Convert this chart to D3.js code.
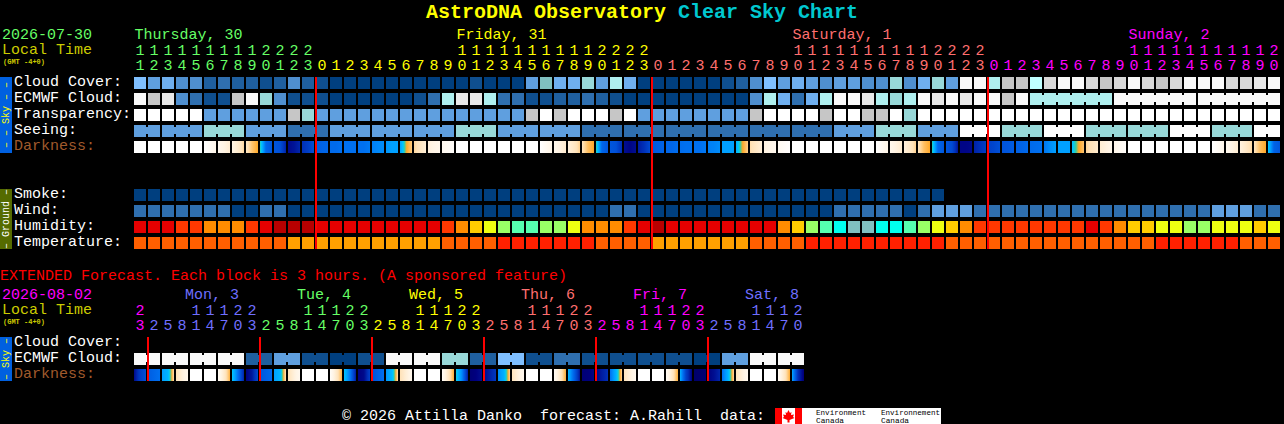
<!DOCTYPE html>
<html lang="en">
<head>
<meta charset="UTF-8">
<title>AstroDNA Observatory Clear Sky Chart</title>
<script src="https://d3js.org/d3.v7.min.js"></script>
<style>
  html, body { margin: 0; background: #000; overflow: hidden; }
  text { font-family: "Liberation Mono", "DejaVu Sans Mono", monospace; font-size: 15px; white-space: pre; }
  rect.block, rect.neck, line.now { shape-rendering: crispEdges; }
</style>
</head>
<body>
<svg id="chart" width="1284" height="424"></svg>
<script>
// hour labels, one per block
const hours = [11,12,13,14,15,16,17,18,19,20,21,22,23,
  0,1,2,3,4,5,6,7,8,9,10,11,12,13,14,15,16,17,18,19,20,21,22,23,
  0,1,2,3,4,5,6,7,8,9,10,11,12,13,14,15,16,17,18,19,20,21,22,23,
  0,1,2,3,4,5,6,7,8,9,10,11,12,13,14,15,16,17,18,19,20];
const extHours = [23,
  2,5,8,11,14,17,20,23, 2,5,8,11,14,17,20,23, 2,5,8,11,14,17,20,23,
  2,5,8,11,14,17,20,23, 2,5,8,11,14,17,20,23, 2,5,8,11,14,17,20];

const days = [["Thursday, 30", 0], ["Friday, 31", 23], ["Saturday, 1", 47], ["Sunday, 2", 71]];
const extDays = [["Mon, 3", 4], ["Tue, 4", 12], ["Wed, 5", 20], ["Thu, 6", 28], ["Fri, 7", 36], ["Sat, 8", 44]];
const midnights = [13, 37, 61];
const extMidnights = [1, 9, 17, 25, 33, 41];

// sky levels, 0 = clear/best, see skyColors
const cloud = [7,5,6,4,4,2,3,2,2,1,2,4,2,1,0,0,0,0,0,0,0,
  0,0,0,1,0,0,0,5,16,6,6,8,5,9,6,0,0,0,0,0,0,1,2,4,7,5,6,5,4,5,5,
  4,4,8,4,6,8,5,15,15,9,11,11,10,12,15,15,12,11,12,15,12,11,12,15,15,15,12,12,13,15];
const ecmwf = [15,11,13,4,3,1,1,11,15,8,4,1,1,1,0,0,0,0,0,0,1,
  3,9,13,13,9,3,3,1,1,2,2,3,2,1,0,0,0,0,0,0,0,0,0,4,9,6,3,6,9,15,15,
  13,9,8,9,15,13,15,13,15,15,11,15,
  9,9,9,9,9,9, 15,15,15,15,15,15, 15,15,15,15,15,15];
const ecmwfSpans = [...d3.range(64).map(() => 1), 6, 6, 6];
const transparency = [14,14,14,14,14,5,5,5,5,5,5,11,8,5,5,5,5,5,5,5,5,
  5,5,5,5,5,5,5,11,14,11,14,14,14,11,14,5,5,5,5,5,5,5,5,11,14,14,14,14,11,14,14,
  11,11,14,8,14,14,14,14,14,14,14,14,14,14,14,14,14,14,14,14,14,14,14,14,14,14,14,14,14,14];
// seeing comes in 3 hour spans
const seeing = [5,5,8,5,3,5,5,5,8,5,5,3,3,3,3,3,3,5,8,5,14,8,14,8,8,14,8,14];
const seeingSpans = [2,3,3,3,3,3,3,3,3,3,3,3,3,3,3,3,3,3,3,3,3,3,3,3,3,3,3,2];
const smoke = d3.range(58).map(() => 0);
const wind = [3,3,3,3,3,3,3,0,0,3,3,0,0,0,0,0,0,0,0,0,0,
  0,0,0,0,0,0,0,0,0,0,0,0,0,3,3,0,0,0,0,0,0,0,0,0,0,0,0,0,0,3,3,
  3,3,3,0,3,5,5,5,3,3,3,3,3,3,3,3,3,3,3,3,3,3,3,3,3,5,5,5,3,3];
// humidity levels, 0 = driest
const humidity = [1,1,1,2,2,3,3,3,2,1,0,0,0,1,1,1,1,1,1,1,1,
  1,2,3,4,5,6,7,7,6,6,5,3,3,3,2,1,0,1,1,1,1,1,1,1,1,3,4,6,7,8,9,
  9,8,8,7,6,5,4,3,2,2,2,2,2,2,2,2,1,2,3,4,4,5,5,6,6,5,5,5,4,5];
// temperature levels
const temperature = [1,1,1,1,1,1,1,1,1,1,1,2,2,2,2,2,2,2,2,2,2,
  2,1,1,1,1,0,0,0,0,0,0,0,1,1,1,1,2,2,2,2,2,2,2,1,1,1,1,0,0,0,0,
  0,0,0,0,0,0,1,1,1,1,1,1,1,1,1,1,1,1,1,1,1,0,0,0,0,0,0,1,1,1];

// darkness, per block [left, middle, right] on the darkScale
const darkness = [[0,0,0],[0,0,0],[0,0,0],[0,0,0],[0,0,0],[0,.4,.8],[.6,1,1.4],[1,1.5,2.2],[1.8,2.5,3],[3.5,6.3,6.8],
  [6.8,7,8.3],[8.8,8.6,8.2],[8,7.6,7],[6.6,6.4,6.3],[6.2,6.2,6],[6,6,6],[6,6,5.8],[5.7,5.5,5.4],[5.2,5,5],[5,3.1,2.4],
  [2.2,1.8,1.3],[1.2,.9,.7],[.6,.4,.2],[0,0,0],[0,0,0],[0,0,0],[0,0,0],[0,0,0],[0,0,0],[0,.5,.9],
  [.7,1.1,1.5],[1.2,1.7,2.3],[1.9,2.6,3],[3.5,6.3,6.8],[6.8,7,8],[8.7,8.9,8.7],[8.4,8,7.2],[6.8,6.6,6.4],[6.3,6.3,6.1],[6.1,6,6],
  [6,6,5.8],[5.7,5.6,5.4],[5,5,5],[4.6,3.1,2.3],[2.1,1.7,1.3],[1.1,.9,.6],[.5,.3,.1],[0,0,0],[0,0,0],[0,0,0],
  [0,0,0],[0,0,0],[0,0,0],[0,.5,.9],[.7,1.1,1.5],[1.2,1.7,2.3],[1.9,2.6,3],[3.5,6.3,6.8],[6.8,7.2,8.6],[8.9,8.9,8.8],
  [8.3,8,7.6],[7.5,7.3,7],[6.9,6.8,6.6],[6.5,6.4,6.2],[6.2,6.1,6],[5.9,5.4,5],[5,5,5],[4.2,3.1,2.5],[2.2,1.9,1.5],[1.4,1.1,.8],
  [.8,.5,.2],[0,0,0],[0,0,0],[0,0,0],[0,0,0],[0,0,0],[0,0,0],[0,.4,.8],[.6,1,1.4],[1.1,1.6,2.2],
  [1.9,2.6,3],[4,6.4,6.8]];

// extended forecast, blocks of 3 hours
const extEcmwf = [15,15,15,15,2,5,1,0,1,15,15,8,2,7,1,3,1,1,1,1,0,5,15,15]
  .flatMap(v => [v, v]);
const extSpans = d3.range(24).map(() => 2);
const extDarkness = [[8.8,7.6,7],[6.6,6.3,6],[5,4.5,2],[2,1.2,.7],[0,0,0],[0,0,0],[.4,1.5,2.8],[4,6,8.3],
  [9,8.5,7.2],[6.8,6.5,6.2],[5,4.5,1.8],[2,1.2,.6],[0,0,0],[0,0,0],[.3,1.5,2.8],[4.1,5.8,8.5],
  [9,8.8,7.5],[7,6.5,6],[5.2,4.4,2],[2,1.3,.7],[0,0,0],[0,0,0],[.3,1.6,2.9],[3.8,5.5,8.5],
  [9.2,9,8.7],[8.8,8.3,7.8],[5.5,4.6,2.2],[1.9,1.2,.6],[0,0,0],[0,0,0],[.4,1.6,2.9],[4.4,6.4,8.6],
  [9.2,9.1,8.9],[8.9,8.4,8],[6,4.6,2.2],[1.9,1.2,.6],[0,0,0],[0,0,0],[.4,1.6,2.9],[4.6,7.5,9],
  [9.4,9.3,9.2],[9,8.7,8.2],[6,4.6,2.1],[1.9,1.2,.6],[0,0,0],[0,0,0],[.4,1.6,2.9],[4.8,8,9.2]];

// palettes
const skyColors = ["#003f7f","#0f4f8f","#1f5f9f","#2f6faf","#4f8fcf","#5f9fdf","#6fafef","#7fbfff",
  "#98d8d8","#afefef","#bfffff","#c6c6c6","#d8d8d8","#e8e8e8","#ffffff","#f9f9f9","#80c0c0"];
const humidityColors = ["#b80000","#e60000","#ff3800","#ff8c00","#ffcc00","#eeff11","#99ff66","#55ffb0","#00ffee","#80c0c0"];
const temperatureColors = ["#ff2000","#ff5f00","#ffa000"];
const dayColors = ["#66ff66","#ffff00","#ff6f6f","#ff00ff"];
const extDayColors = ["#ff00ff","#6f6fff","#66ff66","#ffff00","#ff6f6f","#ff00ff","#6f6fff"];

const sky = d3.scaleOrdinal().domain(d3.range(skyColors.length)).range(skyColors);
const hum = d3.scaleOrdinal().domain(d3.range(humidityColors.length)).range(humidityColors);
const temp = d3.scaleOrdinal().domain(d3.range(temperatureColors.length)).range(temperatureColors);
const darkScale = d3.scaleLinear()
  .domain([0, 1, 2, 3, 3.5, 4, 5, 6, 7, 8, 9])
  .range(["#ffffff","#fff4e4","#ffe2b8","#ffa828","#30d0a0","#00c8ff","#00a0ff","#0070f0","#0050d8","#0030b8","#000080"]);

const x = d3.scaleBand().domain(hours.map((h, i) => i)).range([134, 1280]).paddingInner(2 / 14);
const xExt = d3.scaleBand().domain(extHours.map((h, i) => i)).range([134, 804]).paddingInner(2 / 14);
const ySky = d3.scaleBand().domain(["cloud","ecmwf","transparency","seeing","darkness"]).range([77, 153]).paddingInner(.25);
const yGround = d3.scaleBand().domain(["smoke","wind","humidity","temperature"]).range([189, 249]).paddingInner(.25);
const yExt = d3.scaleBand().domain(["cloud","ecmwf","darkness"]).range([337, 381]).paddingInner(.25);

const svg = d3.select("#chart");
const defs = svg.append("defs");

function label(str, px, py, color, size, weight) {
  const t = svg.append("text").attr("x", px).attr("y", py).attr("fill", color).text(str);
  if (size) t.style("font-size", size + "px");
  if (weight) t.style("font-weight", weight);
  return t;
}

function blocks(values, xs, yPos, h, color) {
  svg.append("g").selectAll("rect").data(values).join("rect")
    .attr("class", "block")
    .attr("x", (d, i) => xs(i)).attr("y", yPos)
    .attr("width", xs.bandwidth()).attr("height", h)
    .attr("fill", d => color(d));
}

// the joined blocks have a thin bridge across the gap
function necks(values, spans, xs, yPos, color) {
  const joins = [];
  let col = 0;
  spans.forEach(n => {
    d3.range(n - 1).forEach(k => joins.push(col + k));
    col += n;
  });
  svg.append("g").selectAll("rect").data(joins).join("rect")
    .attr("class", "neck")
    .attr("x", i => xs(i) + xs.bandwidth()).attr("y", yPos + 2)
    .attr("width", xs.step() - xs.bandwidth()).attr("height", 7)
    .attr("fill", i => color(values[i]));
}

function darkBlocks(values, xs, yPos, h, prefix) {
  const samples = d3.range(0, 1.001, 1 / 12);
  values.forEach((v, i) => {
    const along = d3.scaleLinear().domain([0, .5, 1]).range(v);
    defs.append("linearGradient").attr("id", prefix + i)
      .selectAll("stop").data(samples).join("stop")
      .attr("offset", t => t)
      .attr("stop-color", t => darkScale(along(t)));
  });
  svg.append("g").selectAll("rect").data(values).join("rect")
    .attr("class", "block")
    .attr("x", (d, i) => xs(i)).attr("y", yPos)
    .attr("width", xs.bandwidth()).attr("height", h)
    .attr("fill", (d, i) => `url(#${prefix}${i})`);
}

function hourAxis(xs, labels, yUnits, colorOf) {
  const units = d3.axisTop(xs).tickSize(0).tickPadding(0).offset(0).tickFormat(i => labels[i] % 10);
  const tens = d3.axisTop(xs).tickSize(0).tickPadding(0).offset(0)
    .tickFormat(i => labels[i] >= 10 ? Math.floor(labels[i] / 10) : "");
  [[units, yUnits], [tens, yUnits - 15]].forEach(([axis, yy]) => {
    const g = svg.append("g").attr("transform", `translate(0,${yy})`).call(axis);
    g.select(".domain").remove();
    g.attr("font-family", null).attr("font-size", null);
    g.selectAll("text").attr("fill", colorOf);
  });
}

// title
label("AstroDNA Observatory", 426, 18, "#ffff00", 20, "bold");
label("Clear Sky Chart", 678, 18, "#00c8d0", 20, "bold");

// left header
label("2026-07-30", 2, 39, "#66ff66");
label("Local Time", 2, 54, "#cccc00");
label("(GMT -4+0)", 3, 64, "#cccc00", 7, "bold");

days.forEach(([name, col], i) => label(name, x(col) + 0.5, 39, dayColors[i]));
hourAxis(x, hours, 70, i => {
  let day = 0;
  for (let k = 1; k <= i; k++) if (hours[k] < hours[k - 1]) day++;
  return dayColors[day];
});

// row labels
[["Cloud Cover:", "cloud"], ["ECMWF Cloud:", "ecmwf"], ["Transparency:", "transparency"], ["Seeing:", "seeing"]]
  .forEach(([s, k]) => label(s, 14, ySky(k) + 9, "#ffffff"));
label("Darkness:", 14, ySky("darkness") + 9, "#a05a2c");
[["Smoke:", "smoke"], ["Wind:", "wind"], ["Humidity:", "humidity"], ["Temperature:", "temperature"]]
  .forEach(([s, k]) => label(s, 14, yGround(k) + 9, "#ffffff"));

// blocks
const rowH = ySky.bandwidth();
const seeingByCol = seeing.flatMap((v, i) => d3.range(seeingSpans[i]).map(() => v));
blocks(cloud, x, ySky("cloud"), rowH, sky);
blocks(ecmwf, x, ySky("ecmwf"), rowH, sky);
necks(ecmwf, ecmwfSpans, x, ySky("ecmwf"), sky);
blocks(transparency, x, ySky("transparency"), rowH, sky);
blocks(seeingByCol, x, ySky("seeing"), rowH, sky);
necks(seeingByCol, seeingSpans, x, ySky("seeing"), sky);
darkBlocks(darkness, x, ySky("darkness"), rowH, "dark");
blocks(smoke, x, yGround("smoke"), rowH, sky);
blocks(wind, x, yGround("wind"), rowH, sky);
blocks(humidity, x, yGround("humidity"), rowH, hum);
blocks(temperature, x, yGround("temperature"), rowH, temp);

// midnight lines
svg.append("g").selectAll("line").data(midnights).join("line")
  .attr("class", "now")
  .attr("x1", i => x(i)).attr("x2", i => x(i))
  .attr("y1", 77).attr("y2", 249)
  .attr("stroke", "#ff0000").attr("stroke-width", 2);

// side bars
function sideBar(y0, y1, color, textColor, str) {
  svg.append("rect").attr("class", "block").attr("x", 0).attr("y", y0)
    .attr("width", 12).attr("height", y1 - y0).attr("fill", color);
  svg.append("text")
    .attr("transform", `translate(9,${(y0 + y1) / 2}) rotate(-90)`)
    .attr("text-anchor", "middle").attr("fill", textColor)
    .style("font-size", "10px").text(str);
}
sideBar(77, 153, "#0060e0", "#ffff00", "– – Sky – –");
sideBar(189, 249, "#556b00", "#ffffff", "– Ground –");

// extended section
label("EXTENDED Forecast. Each block is 3 hours. (A sponsored feature)", 0, 280, "#ff0000");
label("2026-08-02", 2, 299, "#ff00ff");
label("Local Time", 2, 314, "#cccc00");
label("(GMT -4+0)", 3, 324, "#cccc00", 7, "bold");
extDays.forEach(([name, col], i) => label(name, xExt(col) - 5, 299, extDayColors[i + 1]));
hourAxis(xExt, extHours, 330, i => extDayColors[Math.floor((i + 7) / 8)]);

[["Cloud Cover:", "cloud"], ["ECMWF Cloud:", "ecmwf"]]
  .forEach(([s, k]) => label(s, 14, yExt(k) + 9, "#ffffff"));
label("Darkness:", 14, yExt("darkness") + 9, "#a05a2c");

blocks(extEcmwf, xExt, yExt("ecmwf"), rowH, sky);
necks(extEcmwf, extSpans, xExt, yExt("ecmwf"), sky);
darkBlocks(extDarkness, xExt, yExt("darkness"), rowH, "extdark");

svg.append("g").selectAll("line").data(extMidnights).join("line")
  .attr("class", "now")
  .attr("x1", i => xExt(i)).attr("x2", i => xExt(i))
  .attr("y1", 337).attr("y2", 381)
  .attr("stroke", "#ff0000").attr("stroke-width", 2);

sideBar(337, 381, "#0060e0", "#ffff00", "– Sky –");

// footer
label("© 2026 Attilla Danko  forecast: A.Rahill  data:", 342, 420, "#ffffff");
svg.append("rect").attr("x", 775).attr("y", 408).attr("width", 166).attr("height", 16).attr("fill", "#fff");
svg.append("rect").attr("x", 775).attr("y", 408).attr("width", 7).attr("height", 16).attr("fill", "#ff0000");
svg.append("rect").attr("x", 795).attr("y", 408).attr("width", 7).attr("height", 16).attr("fill", "#ff0000");
svg.append("path").attr("transform", "translate(788.5,416)")
  .attr("d", "M0,-6 L1.5,-3 L3,-4 L2.5,-1 L5.5,-1.5 L4.5,1 L6,2 L1,4 L1,6.5 L-1,6.5 L-1,4 L-6,2 L-4.5,1 L-5.5,-1.5 L-2.5,-1 L-3,-4 L-1.5,-3 Z")
  .attr("fill", "#ff0000");
[["Environment", 816, 50], ["Environnement", 881, 59]].forEach(([s, px, w]) => {
  label(s, px, 415, "#000000", 8).attr("textLength", w).attr("lengthAdjust", "spacingAndGlyphs");
  label("Canada", px, 423, "#000000", 8).attr("textLength", 28).attr("lengthAdjust", "spacingAndGlyphs");
});
</script>
</body>
</html>
